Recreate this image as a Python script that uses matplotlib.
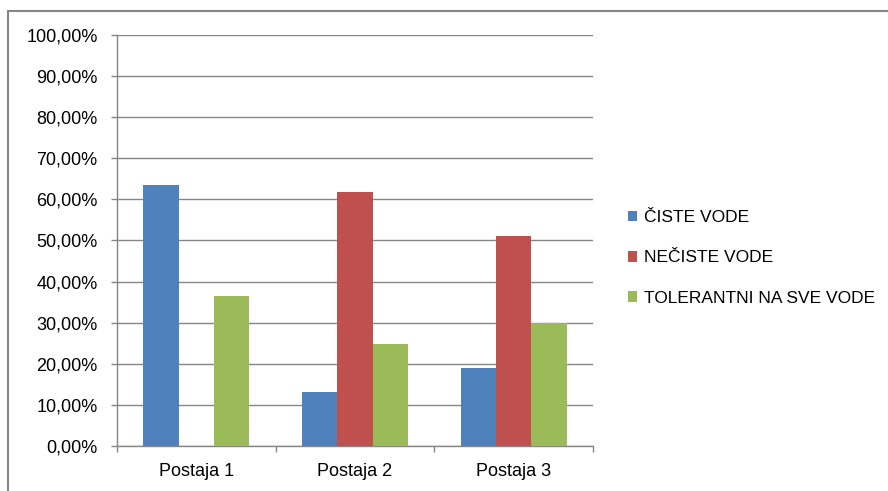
import matplotlib
matplotlib.use("Agg")
import matplotlib.pyplot as plt
from matplotlib.patches import Rectangle, Patch
from matplotlib.ticker import FuncFormatter, MultipleLocator
import numpy as np

categories = ["Postaja 1", "Postaja 2", "Postaja 3"]
series_names = ["ČISTE VODE", "NEČISTE VODE", "TOLERANTNI NA SVE VODE"]
ciste = [63.5, 13.1, 19.0]
neciste = [0.0, 61.8, 51.1]
tolerantni = [36.5, 24.8, 29.9]
colors = ["#4F81BD", "#C0504D", "#9BBB59"]

plt.rcParams['font.family'] = ['Liberation Sans', 'DejaVu Sans']
fs = 13
lfs = 12.5
grey = "#868686"

fig = plt.figure(figsize=(8.88, 4.91), dpi=100)
ax = fig.add_axes([117/888, 1-446/491, (593-117)/888, (446-35)/491])

x = np.arange(len(categories))
w = 1/4.5
for i, (vals, c) in enumerate(zip([ciste, neciste, tolerantni], colors)):
    ax.bar(x + (i-1)*w, vals, width=w, color=c, zorder=3)

ax.set_xlim(-0.5, 2.5)
ax.set_ylim(0, 100)
ax.yaxis.set_major_locator(MultipleLocator(10))
ax.yaxis.set_major_formatter(FuncFormatter(lambda v, p: f"{v:.2f}%".replace(".", ",")))
ax.grid(axis='y', color=grey, lw=1.0, zorder=0)
ax.set_xticks(x)
ax.set_xticklabels(categories)
ax.set_xticks([-0.5, 0.5, 1.5, 2.5], minor=True)
ax.tick_params(axis='x', which='major', length=0, pad=12, labelsize=fs, colors='#000000')
ax.tick_params(axis='x', which='minor', length=4, color=grey, width=1.0)
ax.tick_params(axis='y', length=4, color=grey, width=1.0, pad=10, labelsize=fs)
for s in ['top', 'right']:
    ax.spines[s].set_visible(False)
for s in ['left', 'bottom']:
    ax.spines[s].set_color(grey)
    ax.spines[s].set_linewidth(1.0)

# outer frame
fig.patches.append(Rectangle((8/888, -0.1), 1.2, 1-11/491+0.1, transform=fig.transFigure,
                             fill=False, edgecolor=grey, lw=1.5))

handles = [Patch(facecolor=c, edgecolor='none') for c in colors]
fig.legend(handles, series_names, loc='center left', bbox_to_anchor=(621/888, 1-258/491),
           frameon=False, fontsize=lfs, handlelength=0.55, handleheight=0.55,
           handletextpad=0.4, labelspacing=1.45, borderaxespad=0)

fig.savefig("out.png", dpi=100)
